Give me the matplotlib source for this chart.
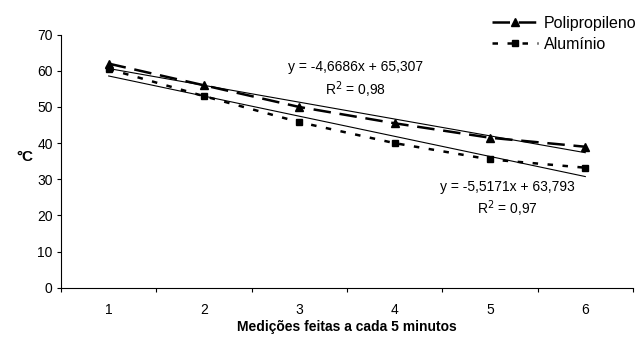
import numpy as np
import matplotlib
matplotlib.use("Agg")
import matplotlib.pyplot as plt

plt.rcParams['font.family'] = ['Liberation Sans', 'DejaVu Sans']

categories = [1, 2, 3, 4, 5, 6]
polipropileno = [62.0, 56.0, 50.0, 45.5, 41.5, 39.0]
aluminio = [60.5, 53.0, 45.8, 40.0, 35.5, 33.2]
eq_poli = "y = -4,6686x + 65,307\nR$^2$ = 0,98"
eq_alum = "y = -5,5171x + 63,793\nR$^2$ = 0,97"
yticks = [0, 10, 20, 30, 40, 50, 60, 70]

fig = plt.figure(figsize=(6.43, 3.38), dpi=100)
ax = fig.add_axes([0.0949, 0.1488, 0.8895, 0.7485])

x = np.array(categories, dtype=float)
ax.plot(x, polipropileno, color='black', lw=1.8, dashes=(7, 3.5), marker='^', ms=5.5,
        label='Polipropileno')
ax.plot(x, aluminio, color='black', lw=1.8, dashes=(2.2, 3.8), marker='s', ms=4.5,
        label='Alumínio')

for s in (polipropileno, aluminio):
    m, b = np.polyfit(x, s, 1)
    ax.plot(x, m * x + b, color='black', lw=0.8)

ax.set_xlim(0.5, 6.5)
ax.set_ylim(0, 70)
ax.set_yticks(yticks)
ax.set_xticks(np.arange(0.5, 7.0, 1.0))
ax.set_xticklabels([])
ax.set_xticks(x, minor=True)
ax.set_xticklabels([str(c) for c in categories], minor=True)
ax.tick_params(axis='x', which='minor', length=0, pad=11, labelsize=10)
ax.tick_params(axis='x', which='major', length=3, direction='out', width=0.8)
ax.tick_params(axis='y', length=3, direction='out', width=0.8, labelsize=10, pad=3)
for sp in ('top', 'right'):
    ax.spines[sp].set_visible(False)
for sp in ('left', 'bottom'):
    ax.spines[sp].set_linewidth(0.8)

ax.text(3.59, 57.5, eq_poli, ha='center', va='center', fontsize=10, linespacing=1.3)
ax.text(5.18, 24.5, eq_alum, ha='center', va='center', fontsize=10, linespacing=1.3)

ax.set_ylabel('°C', fontsize=11, fontweight='bold', rotation=0)
ax.yaxis.set_label_coords(-0.063, 0.49)
ax.set_xlabel('Medições feitas a cada 5 minutos', fontsize=10, fontweight='bold', labelpad=2)

leg = fig.legend(loc='upper right', bbox_to_anchor=(1.012, 0.995), frameon=False,
                 fontsize=11.5, handlelength=2.9, handletextpad=0.35, labelspacing=0.35)

fig.savefig('out.png', dpi=100)
